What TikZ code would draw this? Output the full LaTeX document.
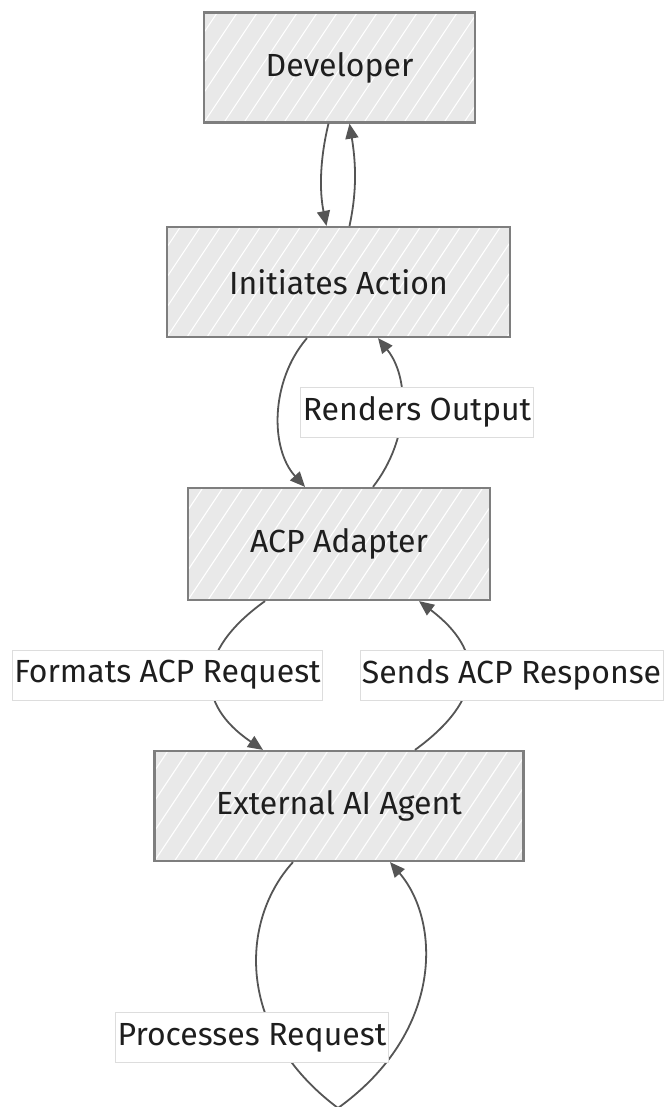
\documentclass[tikz,border=0pt]{standalone}
\usepackage{fontspec}
\setmainfont{Fira Sans}
\usetikzlibrary{arrows.meta,calc}
\definecolor{boxfill}{HTML}{E9E9E9}
\definecolor{boxline}{HTML}{7E7E7E}
\definecolor{edgecol}{HTML}{555555}
\definecolor{txtcol}{HTML}{1E1E1E}
\definecolor{lblline}{HTML}{DDDDDD}
\tikzset{
  procbox/.style={draw=boxline, line width=2.2pt, fill=boxfill, text=txtcol,
    font=\fontsize{32}{38}\selectfont, minimum height=110pt, inner sep=0pt,
    path picture={
      \foreach \i in {-500,-480,...,500}{
        \draw[white, line width=1.1pt]
          ($(path picture bounding box.south west)+(\i pt,0pt)$) -- ++(100pt,150pt);
      }
    }},
  edgelbl/.style={fill=white, draw=lblline, line width=0.7pt, text=txtcol,
    font=\fontsize{32}{38}\selectfont, inner xsep=2pt, inner ysep=0pt,
    minimum height=50pt},
  flow/.style={draw=edgecol, line width=1.8pt,
    -{Triangle[length=15pt,width=13pt]}},
  loopline/.style={draw=edgecol, line width=1.8pt}
}
\begin{document}
\begin{tikzpicture}[x=1pt,y=-1pt]
\useasboundingbox (0,0) rectangle (665,1107);
\fill[white] (0,0) rectangle (665,1107);

\node[procbox, minimum width=271pt] (dev) at (339.5,67.5) {Developer};
\node[procbox, minimum width=343pt] (init) at (338.5,282) {Initiates Action};
\node[procbox, minimum width=302pt, minimum height=112pt] (acp) at (339,544) {ACP Adapter};
\node[procbox, minimum width=369pt] (ext) at (339,806) {External AI Agent};

% Developer <-> Initiates Action
\draw[flow] ([xshift=-11pt]dev.south) .. controls +(-9,37) and +(-7,-34) .. ([xshift=-12pt]init.north);
\draw[flow] ([xshift=11pt]init.north) .. controls +(8,-37) and +(6,37) .. ([xshift=10pt]dev.south);

% Initiates Action <-> ACP Adapter
\draw[flow] ([xshift=-31.5pt]init.south) .. controls +(-37,43) and +(-35,-38) .. ([xshift=-34pt]acp.north);
\draw[flow] ([xshift=34pt]acp.north) .. controls +(37,-48) and +(32,40) .. ([xshift=39.5pt]init.south);

% ACP Adapter <-> External AI Agent
\draw[flow] ([xshift=-74pt]acp.south) .. controls +(-70,50) and +(-68,-46) .. ([xshift=-76pt]ext.north);
\draw[flow] ([xshift=76pt]ext.north) .. controls +(70,-51) and +(66,50) .. ([xshift=80pt]acp.south);

% Self loop on External AI Agent
\coordinate (loopbot) at (338,1108);
\draw[loopline] ([xshift=-46pt]ext.south) .. controls +(-53,58) and +(-103,-77) .. (loopbot);
\draw[flow] (loopbot) .. controls +(107,-77) and +(50,58) .. ([xshift=51pt]ext.south);

% Edge labels
\node[edgelbl] (lrend) at (417,412) {Renders Output};
\node[edgelbl] (lfmt) at (167.5,675) {Formats ACP Request};
\node[edgelbl] (lsend) at (511.5,675) {Sends ACP Response};
\node[edgelbl] (lproc) at (252,1037.5) {Processes Request};
\end{tikzpicture}
\end{document}
